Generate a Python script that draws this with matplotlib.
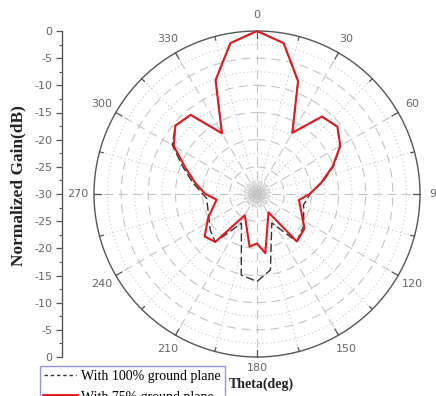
import numpy as np
import matplotlib
matplotlib.use("Agg")
import matplotlib.pyplot as plt
from matplotlib.lines import Line2D

# Radiation pattern, normalized gain (dB) vs theta (deg)
angles_100 = [0, 10, 20, 30, 40, 50, 60, 70, 80, 88, 103, 124, 140, 153, 170,
              180, 191, 208, 221, 232, 265, 280, 290, 300, 310, 320, 330, 340, 350]
gain_100 = [0.0, -1.8, -7.9, -17.0, -11.4, -10.7, -12.3, -15.0, -17.8, -20.0, -21.2,
            -19.6, -18.6, -24.0, -15.8, -13.9, -14.8, -23.9, -18.3, -19.1, -20.7,
            -18.0, -15.5, -12.0, -10.4, -11.0, -17.1, -7.7, -1.8]

angles_75 = [0, 10, 20, 30, 40, 50, 60, 70, 80, 90, 98, 126, 140, 148, 172, 180,
             188, 210, 221, 231, 244, 262, 270, 280, 290, 300, 310, 320, 330, 340, 350]
gain_75 = [0.0, -1.8, -7.9, -17.0, -11.4, -10.7, -12.3, -15.2, -18.0, -20.3, -22.2,
           -19.2, -18.6, -26.0, -19.0, -20.9, -20.2, -25.5, -18.3, -17.6, -20.0,
           -22.5, -20.5, -18.5, -16.0, -12.3, -10.4, -11.0, -17.1, -7.7, -1.8]

theta_labels = [0, 30, 60, 90, 120, 150, 180, 210, 240, 270, 300, 330]
gain_ticks = [-30, -25, -20, -15, -10, -5, 0, 5, 10, 15, 20, 25, 30]

R_MIN, R_MAX = -30, 0
GRID = "#c4c4c4"
AXC = "#555555"

fig = plt.figure(figsize=(4.36, 3.96), dpi=100)
ax = fig.add_axes([94 / 436, 39 / 396, 326 / 436, 326 / 396], projection="polar")
ax.set_theta_zero_location("N")
ax.set_theta_direction(-1)
ax.set_ylim(R_MIN, R_MAX)
ax.set_xticks([])
ax.set_yticks([])
ax.spines["polar"].set_color(AXC)
ax.spines["polar"].set_linewidth(1.0)

# circular grid: long dashes every 5 dB, dots in between
ring = np.linspace(0, 2 * np.pi, 721)
for k in range(1, 12):
    r = R_MIN + 2.5 * k
    if k % 2 == 0:
        ax.plot(ring, np.full_like(ring, r), color=GRID, lw=0.8, dashes=(8, 5), zorder=1)
    else:
        ax.plot(ring, np.full_like(ring, r), color=GRID, lw=0.8, dashes=(1, 2.5), zorder=1)

# radial grid: dashed every 30 deg, dotted every 15 deg
for a in range(0, 360, 15):
    t = np.deg2rad(a)
    if a % 30 == 0:
        ax.plot([t, t], [R_MIN, R_MAX], color=GRID, lw=0.8, dashes=(8, 5), zorder=1)
    else:
        ax.plot([t, t], [R_MIN, R_MAX], color=GRID, lw=0.8, dashes=(1, 2.5), zorder=1)

# fine spokes around the origin
for a in range(0, 360, 5):
    if a % 15:
        t = np.deg2rad(a)
        ax.plot([t, t], [R_MIN, R_MIN + 2.4], color=GRID, lw=0.5, zorder=1)

# ticks on the outer circle
for a in range(0, 360, 15):
    t = np.deg2rad(a)
    inner = R_MAX - (1.3 if a % 30 == 0 else 0.7)
    ax.plot([t, t], [inner, R_MAX], color=AXC, lw=0.9, zorder=3, clip_on=False)

for a in theta_labels:
    r_lab = 2.0 if a == 180 else 3.0
    ax.text(np.deg2rad(a), r_lab, str(a), ha="center", va="center",
            fontsize=8, color="#666666", family="DejaVu Sans", clip_on=False)

# pattern curves
t100 = np.deg2rad(angles_100 + angles_100[:1])
g100 = gain_100 + gain_100[:1]
t75 = np.deg2rad(angles_75 + angles_75[:1])
g75 = gain_75 + gain_75[:1]
ax.plot(t100, g100, color="#333333", lw=1.0, dashes=(6, 2.5), zorder=4)
ax.plot(t75, g75, color="#e3181d", lw=1.5, zorder=5)

# linear gain scale on the left
lax = fig.add_axes([62 / 436, 39 / 396, 0.0005, 326 / 396])
lax.set_ylim(-30, 30)
for s in ("top", "right", "bottom"):
    lax.spines[s].set_visible(False)
lax.spines["left"].set_color(AXC)
lax.spines["left"].set_linewidth(1.0)
lax.set_xticks([])
lax.set_yticks(gain_ticks)
lax.set_yticklabels([str(abs(v) - 30) if abs(v) != 30 else "0" for v in gain_ticks])
lax.set_yticks(np.arange(-27.5, 30, 5), minor=True)
lax.tick_params(axis="y", which="major", length=4, width=0.9, color=AXC,
                labelsize=8, labelcolor="#666666", pad=3)
lax.tick_params(axis="y", which="minor", length=2.5, width=0.8, color=AXC)
lax.patch.set_visible(False)

fig.text(18 / 436, 1 - 186 / 396, "Normalized Gain(dB)", rotation=90,
         ha="center", va="center", fontsize=12.5, fontweight="bold",
         family="Liberation Serif", color="#222222")
fig.text(261 / 436, 1 - 384 / 396, "Theta(deg)", ha="center", va="center",
         fontsize=10, fontweight="bold", family="Liberation Serif", color="#222222")

handles = [Line2D([], [], color="#333333", lw=1.0, dashes=(2.5, 2)),
           Line2D([], [], color="#e3181d", lw=3.5)]
leg = fig.legend(handles, ["With 100% ground plane", "With 75% ground plane"],
                 loc="upper left", bbox_to_anchor=(40 / 436, 1 - 366 / 396),
                 frameon=True, fancybox=False, edgecolor="#7a7ae0",
                 prop={"family": "Liberation Serif", "size": 10},
                 handlelength=2.3, handletextpad=0.35, borderpad=0.3,
                 labelspacing=0.55, borderaxespad=0)
leg.get_frame().set_linewidth(1.0)

fig.savefig("out.png", dpi=100)
